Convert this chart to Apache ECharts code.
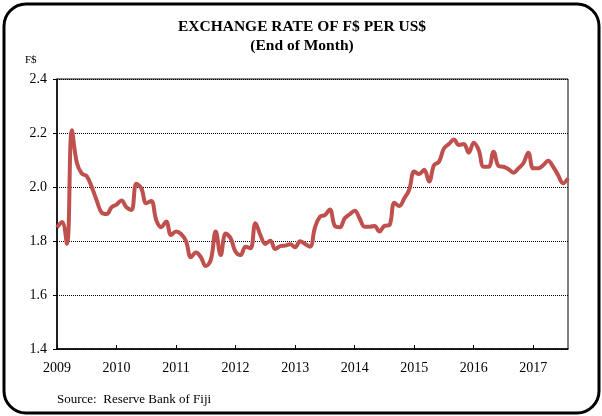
<!DOCTYPE html>
<html>
<head>
<meta charset="utf-8">
<script src="https://cdn.jsdelivr.net/npm/echarts@6/dist/echarts.min.js"></script>
<style>
  html, body { margin: 0; padding: 0; background: #fff; }
  #main { width: 602px; height: 416px; }
</style>
</head>
<body>
<div id="main"></div>
<script>
// 月末汇率 F$ / US$, 2009-01 .. 2017-08
var years = ['2009', '2010', '2011', '2012', '2013', '2014', '2015', '2016', '2017'];
var rate2009 = [1.85, 1.87, 1.79, 2.21, 2.09, 2.05, 2.04, 2.00, 1.95, 1.905, 1.90, 1.925];
var rate2010 = [1.935, 1.95, 1.925, 1.915, 2.012, 1.995, 1.94, 1.948, 1.878, 1.851, 1.872, 1.822];
var rate2011 = [1.835, 1.826, 1.80, 1.74, 1.757, 1.74, 1.707, 1.73, 1.835, 1.748, 1.828, 1.81];
var rate2012 = [1.76, 1.748, 1.779, 1.773, 1.866, 1.822, 1.789, 1.801, 1.77, 1.781, 1.783, 1.788];
var rate2013 = [1.777, 1.799, 1.789, 1.779, 1.85, 1.89, 1.896, 1.917, 1.856, 1.851, 1.884, 1.899];
var rate2014 = [1.912, 1.884, 1.853, 1.853, 1.856, 1.835, 1.856, 1.859, 1.942, 1.93, 1.958, 1.99];
var rate2015 = [2.057, 2.048, 2.064, 2.02, 2.081, 2.094, 2.143, 2.159, 2.176, 2.156, 2.159, 2.127];
var rate2016 = [2.164, 2.137, 2.075, 2.075, 2.131, 2.078, 2.075, 2.066, 2.053, 2.069, 2.088, 2.127];
var rate2017 = [2.069, 2.069, 2.081, 2.097, 2.075, 2.044, 2.014, 2.032];

var rates = [].concat(rate2009, rate2010, rate2011, rate2012, rate2013,
                      rate2014, rate2015, rate2016, rate2017);

// 横坐标: 每个月一个类目
var months = [];
for (var i = 0; i < rates.length; i++) {
    months.push(years[Math.floor(i / 12)] + '-' + (i % 12 + 1));
}

var font = 'Liberation Serif';
var myChart = echarts.init(document.getElementById('main'));

var option = {
    animation: false,
    backgroundColor: '#fff',
    title: {
        text: 'EXCHANGE RATE OF F$ PER US$\n(End of Month)',
        left: 297,
        textAlign: 'center',
        top: 12,
        textStyle: {
            fontFamily: font,
            fontWeight: 'bold',
            fontSize: 15.5,
            lineHeight: 19,
            color: '#000'
        }
    },
    graphic: [
        {
            type: 'rect',
            shape: { x: 4, y: 4, width: 595, height: 409, r: 22 },
            style: { fill: 'none', stroke: '#000', lineWidth: 3 },
            silent: true
        },
        {
            type: 'text',
            left: 25,
            top: 55,
            style: { text: 'F$', font: '11px ' + font, fill: '#000' }
        },
        {
            type: 'text',
            left: 57,
            top: 393,
            style: { text: 'Source:  Reserve Bank of Fiji', font: '13px ' + font, fill: '#000' }
        }
    ],
    grid: {
        left: 57,
        right: 34,
        top: 79,
        bottom: 67,
        show: true,
        borderColor: '#000',
        borderWidth: 1
    },
    xAxis: {
        type: 'category',
        data: months,
        boundaryGap: false,
        axisLine: { lineStyle: { color: '#000', width: 1.5 } },
        axisTick: {
            inside: true,
            length: 4,
            interval: function (idx) { return idx % 12 === 0; },
            lineStyle: { color: '#000' }
        },
        axisLabel: {
            interval: function (idx) { return idx % 12 === 0; },
            formatter: function (v) { return v.split('-')[0]; },
            fontFamily: font,
            fontSize: 14,
            color: '#000',
            margin: 12
        },
        splitLine: { show: false }
    },
    yAxis: {
        type: 'value',
        min: 1.4,
        max: 2.4,
        interval: 0.2,
        axisLine: { show: true, lineStyle: { color: '#000', width: 1.5 } },
        axisTick: { show: true, length: 4, lineStyle: { color: '#000' } },
        axisLabel: {
            formatter: function (v) { return v.toFixed(1); },
            fontFamily: font,
            fontSize: 14,
            color: '#000',
            margin: 10
        },
        splitLine: { lineStyle: { color: '#000', type: [1, 1], width: 1 } }
    },
    series: [
        {
            name: 'F$ per US$',
            type: 'line',
            data: rates,
            smooth: 0.4,
            showSymbol: false,
            lineStyle: { color: '#c0504d', width: 4 }
        }
    ]
};

myChart.setOption(option);
</script>
</body>
</html>
